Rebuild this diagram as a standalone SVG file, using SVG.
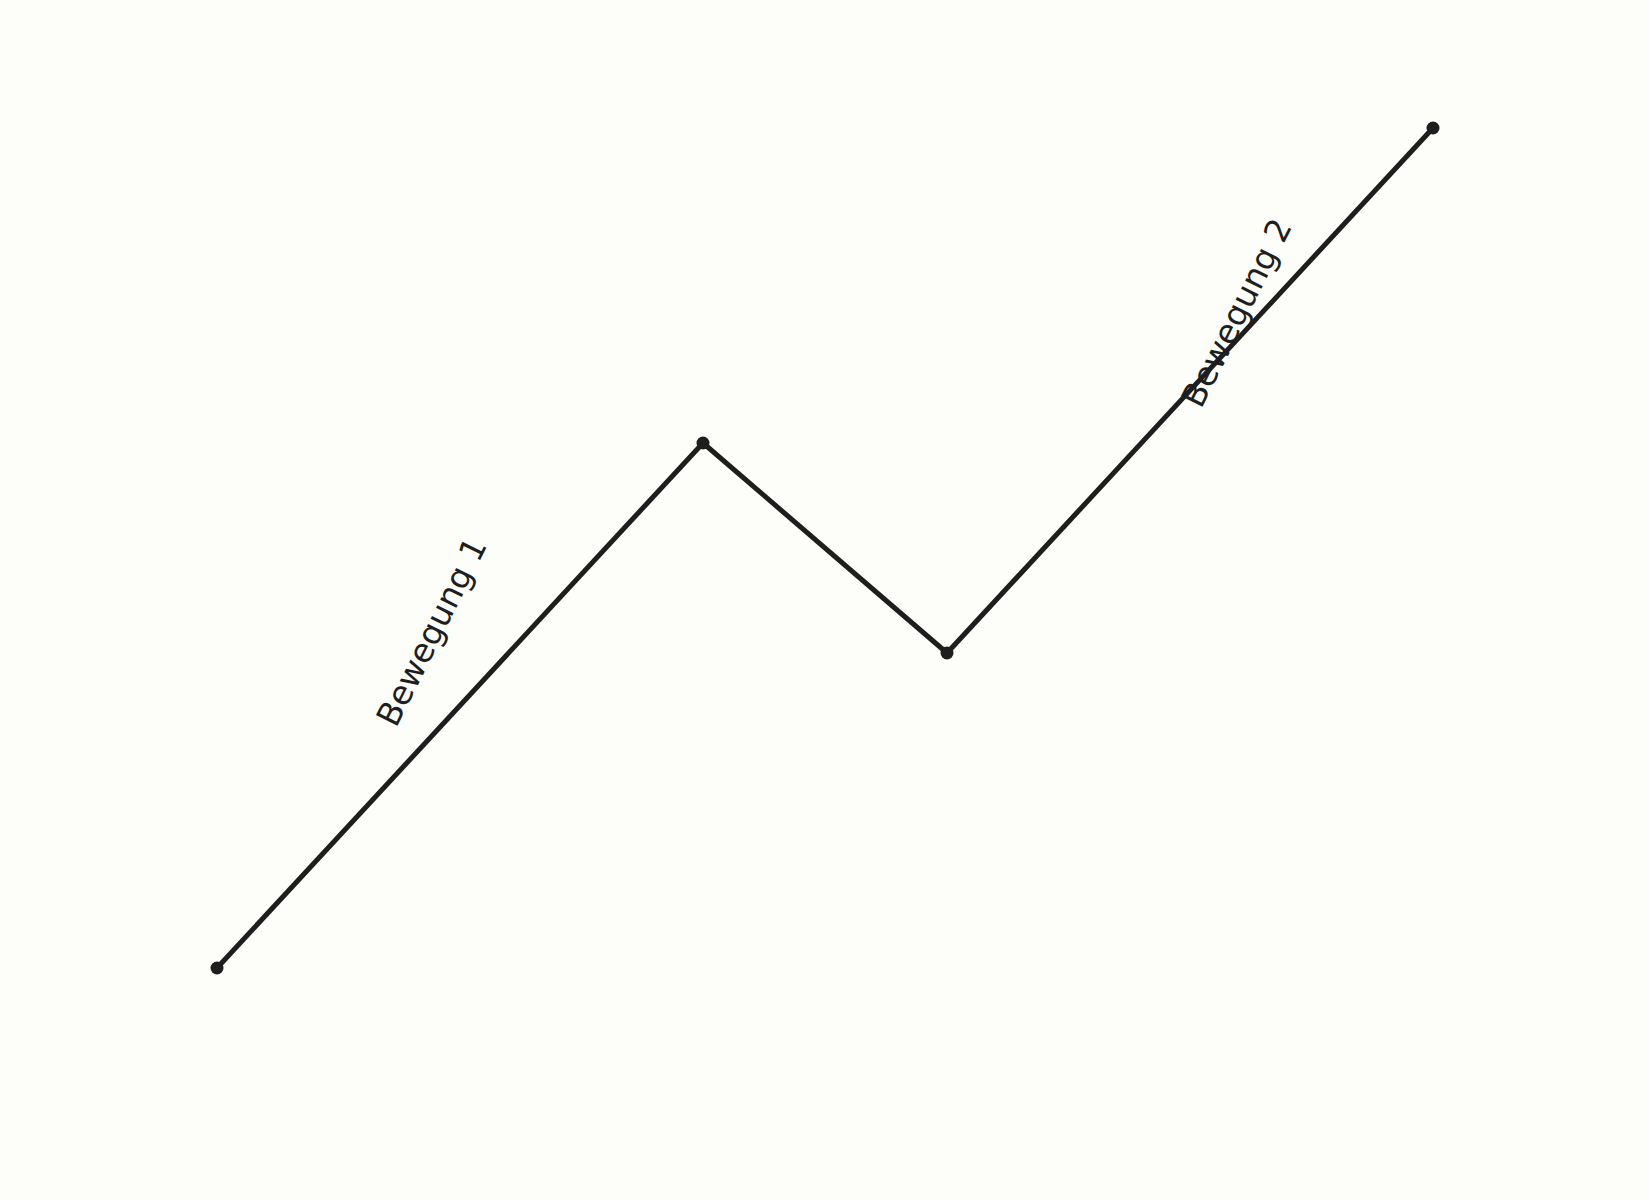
<svg xmlns="http://www.w3.org/2000/svg" width="1650" height="1200" viewBox="0 0 1650 1200">
<style>
.seg{stroke:#1e1e1e;stroke-width:5;fill:none;stroke-linecap:round;stroke-linejoin:round}
.pt{fill:#1e1e1e}
.lbl{font-family:"DejaVu Sans",sans-serif;font-size:33px;fill:#1e1e1e;text-anchor:middle}
</style>
<rect width="1650" height="1200" fill="#fdfdf9"/>
<g id="connectors">
<polyline class="seg" points="217,968 703,443 947,653 1433,128"/>
</g>
<g id="p1"><circle class="pt" cx="217" cy="968" r="6.5"/></g>
<g id="p2"><circle class="pt" cx="703" cy="443" r="6.5"/></g>
<g id="p3"><circle class="pt" cx="947" cy="653" r="6.5"/></g>
<g id="p4"><circle class="pt" cx="1433" cy="128" r="6.5"/></g>
<g id="label1"><text class="lbl" transform="translate(432,632) rotate(-63.5)" dy="11">Bewegung 1</text></g>
<g id="label2"><text class="lbl" transform="translate(1237,313) rotate(-63.5)" dy="11">Bewegung 2</text></g>
</svg>
